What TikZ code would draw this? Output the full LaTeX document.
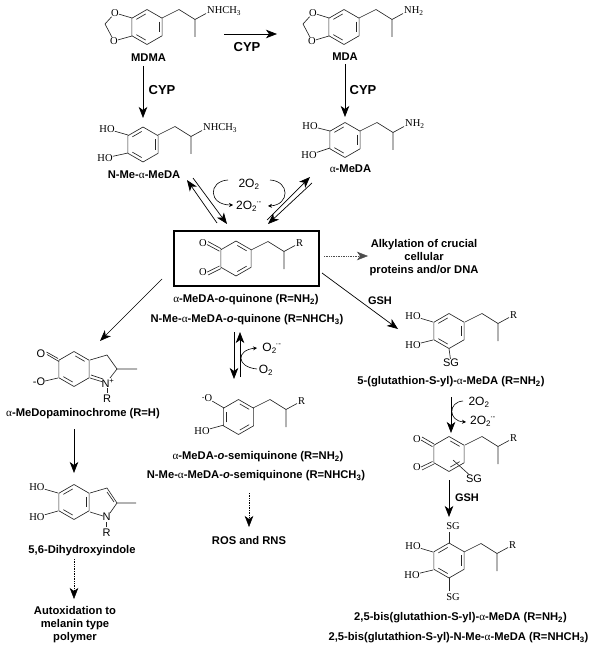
\documentclass[tikz,border=0pt]{standalone}
\usepackage{fontspec}
\setmainfont{Liberation Sans}
\newfontfamily\chemserif{Liberation Serif}
\usetikzlibrary{arrows.meta}
\newcommand{\superox}{O\textsubscript{2}\kern-1pt\textsuperscript{\textperiodcentered-}}
\newcommand{\alphaup}{{\mdseries\chemserif α}}

\begin{document}
\begin{tikzpicture}[x=1pt, y=-1pt,
    every node/.style={inner sep=0pt, align=center},
    cmpd/.style={font=\fontsize{11.2}{13}\selectfont\bfseries},
    enzyme/.style={font=\fontsize{13}{13}\selectfont\bfseries},
    gsh/.style={font=\fontsize{11}{11}\selectfont\bfseries},
    atom/.style={font=\fontsize{10.5}{11}\selectfont\chemserif},
    sanslbl/.style={font=\fontsize{11}{11}\selectfont},
    oxy/.style={font=\fontsize{12}{12}\selectfont},
    bond/.style={line width=0.65pt, black!85},
    rxn/.style={-{Stealth[length=11pt, width=8.5pt, inset=3pt]}, line width=0.7pt},
    rxndot/.style={rxn, densely dotted, line width=0.5pt},
    curly/.style={-{Stealth[length=4pt, width=4pt]}, line width=0.6pt},
    ring/.pic={
      \draw[bond] (-90:17.5) -- (-30:17.5) -- (30:17.5) -- (90:17.5) -- (150:17.5) -- (210:17.5) -- cycle;
      \foreach \s in {#1}
        \draw[bond, shorten <=1.5pt, shorten >=1.5pt]
          ({-90+60*\s}:13.8) -- ({-30+60*\s}:13.8);
    },
    chain/.pic={
      \draw[bond] (0,0) -- (17,-8.5) -- (33,1.5) -- (33,19);
      \draw[bond] (33,1.5) -- (44,-4.5);
      \node[atom, anchor=west] (-tail) at (45,-7) {#1};
    }]

  \useasboundingbox (0,0) rectangle (595,660);

  % MDMA
  \pic at (147,27) {ring={1,3,5}};
  \pic at (162,18) {chain={NHCH\textsubscript{3}}};
  \node[atom] (mdmaOa) at (115,13) {O};
  \node[atom] (mdmaOb) at (114,41) {O};
  \draw[bond] (mdmaOa) -- (105,24) -- (mdmaOb);
  \draw[bond] (mdmaOa) -- (132,18);
  \draw[bond] (mdmaOb) -- (132,36);
  \node[cmpd] (mdma) at (148.5,58) {MDMA};

  % MDA
  \pic at (344,27) {ring={1,3,5}};
  \pic at (359,18) {chain={NH\textsubscript{2}}};
  \node[atom] (mdaOa) at (313,13) {O};
  \node[atom] (mdaOb) at (312,41) {O};
  \draw[bond] (mdaOa) -- (303,24) -- (mdaOb);
  \draw[bond] (mdaOa) -- (329,18);
  \draw[bond] (mdaOb) -- (329,36);
  \node[cmpd] (mda) at (345,57) {MDA};

  % N-Me-alpha-MeDA
  \pic at (143,144.5) {ring={1,3,5}};
  \pic at (158,135) {chain={NHCH\textsubscript{3}}};
  \node[atom] (nmeHOa) at (107,129) {HO};
  \node[atom] (nmeHOb) at (105,158) {HO};
  \draw[bond] (nmeHOa) -- (128,135);
  \draw[bond] (nmeHOb) -- (128,153);
  \node[cmpd] (nme) at (144,175) {N-Me-\alphaup-MeDA};

  % alpha-MeDA
  \pic at (345,140) {ring={1,3,5}};
  \pic at (360,131) {chain={NH\textsubscript{2}}};
  \node[atom] (amedaHOa) at (310,126) {HO};
  \node[atom] (amedaHOb) at (309,155) {HO};
  \draw[bond] (amedaHOa) -- (330,131);
  \draw[bond] (amedaHOb) -- (330,148);
  \node[cmpd] (ameda) at (350.5,169) {\alphaup-MeDA};

  % Arrows at the top
  \coordinate (mdmaR) at (224,34);
  \coordinate (mdaL) at (277,34);
  \coordinate (mdmaD) at (143,66);
  \coordinate (nmeU) at (143,118);
  \coordinate (mdaD) at (345,64);
  \coordinate (amedaU) at (345,117);
  \draw[rxn] (mdmaR) -- (mdaL);
  \draw[rxn] (mdmaD) -- (nmeU);
  \draw[rxn] (mdaD) -- (amedaU);
  \node[enzyme] (cypa) at (247,47) {CYP};
  \node[enzyme] (cypb) at (162,90) {CYP};
  \node[enzyme] (cypc) at (363,90) {CYP};

  % Redox pairs into the quinone
  \coordinate (nmeA) at (193,178);
  \coordinate (nmeB) at (187,180);
  \coordinate (boxA) at (227,224);
  \coordinate (boxB) at (217,223);
  \coordinate (amA) at (312,183);
  \coordinate (amB) at (310,177);
  \coordinate (boxC) at (268,224);
  \coordinate (boxD) at (267,220);
  \draw[rxn] (nmeA) -- (boxA);
  \draw[rxn] (boxB) -- (nmeB);
  \draw[rxn] (amA) -- (boxC);
  \draw[rxn] (boxD) -- (amB);
  \node[oxy] (oxa) at (249,184) {2O\textsubscript{2}};
  \node[oxy] (sup) at (249,206) {2\superox};
  \draw[curly] (228,180) .. controls (208,181) and (208,205) .. (233,205);
  \draw[curly] (270,180) .. controls (290,181) and (290,205) .. (268,206);

  % Quinone in its box
  \node[draw, line width=1.3pt, minimum width=145pt, minimum height=55pt] (qbox) at (246.5,258.5) {};
  \pic at (236,258.5) {ring={0,2}};
  \pic at (251,250) {chain={R}};
  \node[atom] (qOa) at (203,243.5) {O};
  \node[atom] (qOb) at (203,272) {O};
  \draw[bond] (221,248.6) -- (208,241.5);
  \draw[bond] (219.5,251.2) -- (207,244.5);
  \draw[bond] (221,268.6) -- (208,275);
  \draw[bond] (219.5,266) -- (207,272.2);
  \node[cmpd] (quinA) at (246,300) {\alphaup-MeDA-\textit{o}-quinone (R=NH\textsubscript{2})};
  \node[cmpd] (quinB) at (247,320) {N-Me-\alphaup-MeDA-\textit{o}-quinone (R=NHCH\textsubscript{3})};

  % Alkylation
  \node[cmpd] (alkyl) at (424,258) {Alkylation of crucial\\cellular\\proteins and/or DNA};
  \coordinate (boxE) at (324,256);
  \coordinate (alkylW) at (368,256);
  \draw[rxndot, black!70] (boxE) -- (alkylW);

  % Dopaminochrome branch
  \coordinate (boxF) at (162,279);
  \coordinate (chromeN) at (100,341);
  \draw[rxn] (boxF) -- (chromeN);
  \pic at (74,369) {ring={0,3}};
  \draw[bond] (90,360) -- (107,355) -- (117,369) -- (137,369);
  \node[sanslbl] (chromeNit) at (108,383) {N\textsuperscript{+}};
  \draw[bond] (117,369) -- (110,378);
  \draw[bond] (90,378) -- (103,382);
  \draw[bond] (91,375) -- (103,379);
  \node[sanslbl] (chromeR) at (107,399) {R};
  \draw[bond] (107,388) -- (107,393);
  \node[sanslbl] (chromeO) at (41,353.5) {O};
  \node[sanslbl] (chromeOm) at (39,382) {-O};
  \draw[bond] (59,361.5) -- (47,354.5);
  \draw[bond] (58,358.5) -- (46.5,352);
  \draw[bond] (58,378) -- (45,381);
  \node[cmpd] (chrome) at (83,414) {\alphaup-MeDopaminochrome (R=H)};
  \coordinate (chromeD) at (74,429);
  \coordinate (indoleU) at (74,473);
  \draw[rxn] (chromeD) -- (indoleU);

  % 5,6-Dihydroxyindole
  \pic at (74,502) {ring={1,3,5}};
  \draw[bond] (90,493) -- (107,488) -- (117,503) -- (136,503);
  \draw[bond] (107,492) -- (114,502);
  \draw[bond] (117,503) -- (110,513);
  \draw[bond] (90,512) -- (103,516);
  \node[sanslbl] (indoleNit) at (106.5,517) {N};
  \node[sanslbl] (indoleR) at (106.5,533) {R};
  \draw[bond] (106.5,522) -- (106.5,527);
  \node[atom] (indoleHOa) at (37,487) {HO};
  \node[atom] (indoleHOb) at (37,517) {HO};
  \draw[bond] (indoleHOa) -- (58,493);
  \draw[bond] (indoleHOb) -- (58,511);
  \node[cmpd] (indole) at (82,551) {5,6-Dihydroxyindole};
  \coordinate (indoleD) at (74,559);
  \coordinate (melanU) at (74,599);
  \draw[rxndot] (indoleD) -- (melanU);
  \node[cmpd] (melan) at (75,625) {Autoxidation to\\melanin type\\polymer};

  % Semiquinone
  \coordinate (qDa) at (234,332);
  \coordinate (qDb) at (234,379);
  \coordinate (qUa) at (240,377);
  \coordinate (qUb) at (240,332);
  \draw[rxn] (qDa) -- (qDb);
  \draw[rxn] (qUa) -- (qUb);
  \draw[curly] (257,369) .. controls (236,367) and (236,350) .. (257,348);
  \node[oxy] (oxb) at (272,348) {\superox};
  \node[oxy] (oxc) at (266,370) {O\textsubscript{2}};
  \pic at (238.5,417) {ring={0,2,4}};
  \pic at (253,408) {chain={R}};
  \node[atom] (semiO) at (207,398) {\raisebox{3pt}{.}O};
  \node[atom] (semiHO) at (202,431) {HO};
  \draw[bond] (semiO) -- (224,408);
  \draw[bond] (semiHO) -- (224,425);
  \node[cmpd] (semiA) at (258,457) {\alphaup-MeDA-\textit{o}-semiquinone (R=NH\textsubscript{2})};
  \node[cmpd] (semiB) at (256,476) {N-Me-\alphaup-MeDA-\textit{o}-semiquinone (R=NHCH\textsubscript{3})};
  \coordinate (semiD) at (249,493);
  \coordinate (rosU) at (249,527);
  \draw[rxndot] (semiD) -- (rosU);
  \node[cmpd] (ros) at (249,540) {ROS and RNS};

  % 5-(glutathion-S-yl)
  \coordinate (boxG) at (322,273);
  \coordinate (monoN) at (398,329);
  \draw[rxn] (boxG) -- (monoN);
  \node[gsh] (gsha) at (380,301) {GSH};
  \pic at (449,331) {ring={1,3,5}};
  \pic at (465,322) {chain={R}};
  \node[atom] (monoHOa) at (413,316) {HO};
  \node[atom] (monoHOb) at (413,345) {HO};
  \draw[bond] (monoHOa) -- (433,322);
  \draw[bond] (monoHOb) -- (433,340);
  \node[sanslbl] (monoSG) at (451,363) {SG};
  \draw[bond] (449,348.5) -- (monoSG);
  \node[cmpd] (mono) at (451,382) {5-(glutathion-S-yl)-\alphaup-MeDA (R=NH\textsubscript{2})};

  % Arrow to the SG quinone
  \coordinate (monoD) at (451,397);
  \coordinate (qsgU) at (451,433);
  \draw[rxn] (monoD) -- (qsgU);
  \draw[curly] (463,401) .. controls (448,402) and (448,421) .. (466,422);
  \node[oxy] (oxd) at (479,402) {2O\textsubscript{2}};
  \node[oxy] (sup2) at (483,421) {2\superox};

  % SG quinone
  \pic at (449,454) {ring={0,2}};
  \pic at (465,445) {chain={R}};
  \node[atom] (qsgOa) at (417,439) {O};
  \node[atom] (qsgOb) at (417,467) {O};
  \draw[bond] (434,444) -- (422,437);
  \draw[bond] (432.5,446.7) -- (421,440);
  \draw[bond] (434,464) -- (422,470);
  \draw[bond] (432.5,461.5) -- (421,467);
  \node[sanslbl] (qsgSG) at (474,479) {SG};
  \draw[bond] (453,460) -- (qsgSG);
  \coordinate (qsgD) at (449,480);
  \coordinate (bisU) at (449,517);
  \draw[rxn] (qsgD) -- (bisU);
  \node[gsh] (gshb) at (467,498) {GSH};

  % Bis adduct
  \pic at (449,560.5) {ring={1,3,5}};
  \pic at (464,552) {chain={R}};
  \node[atom] (bisSGa) at (453,526) {SG};
  \node[atom] (bisSGb) at (453,597) {SG};
  \draw[bond] (449,543) -- (449,532);
  \draw[bond] (449,578) -- (449,591);
  \node[atom] (bisHOa) at (413,546) {HO};
  \node[atom] (bisHOb) at (412,575) {HO};
  \draw[bond] (bisHOa) -- (433,552);
  \draw[bond] (bisHOb) -- (433,570);
  \node[cmpd] (bisA) at (460.5,618) {2,5-bis(glutathion-S-yl)-\alphaup-MeDA (R=NH\textsubscript{2})};
  \node[cmpd] (bisB) at (458.5,638) {2,5-bis(glutathion-S-yl)-N-Me-\alphaup-MeDA (R=NHCH\textsubscript{3})};

\end{tikzpicture}
\end{document}
